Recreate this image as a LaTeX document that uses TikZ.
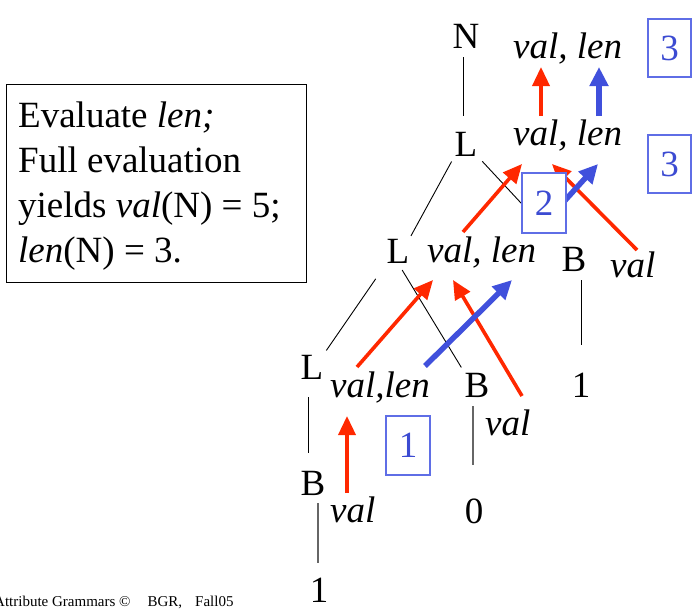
\documentclass[tikz,border=0pt]{standalone}
\usepackage{fontspec}
\setmainfont{Liberation Serif}
\usetikzlibrary{arrows.meta}
\definecolor{ared}{RGB}{255,40,0}
\definecolor{ablue}{RGB}{64,80,220}
\definecolor{bxblue}{RGB}{95,110,230}
\definecolor{dgblue}{RGB}{60,75,210}
\tikzset{
  lab/.style={inner sep=0pt, anchor=base, font=\fontsize{37}{40}\selectfont},
  att/.style={inner sep=0pt, anchor=base west, font=\fontsize{37}{40}\selectfont\itshape},
  infoline/.style={inner sep=0pt, anchor=base west, font=\fontsize{37}{40}\selectfont},
  edge/.style={draw=black, line width=0.9pt},
  gedge/.style={draw=black!60, line width=1.1pt},
  redarr/.style={draw=ared, line width=3.6pt, -{Triangle[length=19pt,width=17pt]}},
  bluearr/.style={draw=ablue, line width=5.5pt, -{Triangle[length=19pt,width=18pt]}},
  numbox/.style={draw=bxblue, line width=1.1pt, fill=white, minimum width=43pt, minimum height=58pt, inner sep=0pt, text=dgblue, font=\fontsize{37}{40}\selectfont}
}
\begin{document}
\begin{tikzpicture}[x=1pt,y=-1pt]
\useasboundingbox (0,0) rectangle (694,613);

% info box
\node[draw, line width=1pt, minimum width=300pt, minimum height=198pt, anchor=north west, inner sep=0pt] (info) at (6,84) {};
\node[infoline] (i1) at (18,127) {Evaluate \textit{len;}};
\node[infoline] (i2) at (18,172) {Full evaluation};
\node[infoline] (i3) at (18,217) {yields \textit{val}(N) = 5;};
\node[infoline] (i4) at (18,262) {\textit{len}(N) = 3.};

% footer
\node[inner sep=0pt, anchor=base west, font=\fontsize{15}{17}\selectfont] (foot) at (-6,606) {Attribute Grammars \textcopyright\hspace{17pt}BGR,\hspace{13pt}Fall05};

% tree symbols
\node[lab] (N) at (466,48) {N};
\node[lab] (L1) at (466,156) {L};
\node[lab] (L2) at (398,263) {L};
\node[lab] (L3) at (312,379) {L};
\node[lab] (B2) at (574,271) {B};
\node[lab] (B3) at (477,397) {B};
\node[lab] (B4) at (313,495) {B};
\node[lab] (oneR) at (581,397) {1};
\node[lab] (zero) at (474,523) {0};
\node[lab] (oneB) at (319,602) {1};

% attributes
\node[att] (aN) at (513,58) {val, len};
\node[att] (aL1) at (513,145) {val, len};
\node[att] (aL2) at (427,262) {val, len};
\node[att] (aL3) at (330,397) {val,len};
\node[att] (aB2) at (610,277) {val};
\node[att] (aB3) at (485,435) {val};
\node[att] (aB4) at (330,522) {val};

% tree edges
\draw[edge, shorten <=9pt, shorten >=16pt] ([xshift=-3pt]N.south) -- ([xshift=-3pt]L1.north);
\draw[edge, shorten <=6pt, shorten >=3pt] (L1.south west) -- (L2.north east);
\draw[edge, shorten <=7pt, shorten >=18pt] (L1.south east) -- (B2.north west);
\draw[edge, shorten <=19pt, shorten >=5pt] (L2.south west) -- (L3.north east);
\draw[edge, shorten <=8pt, shorten >=6pt] (L2.south) -- (B3.north west);
\draw[edge, shorten <=18pt, shorten >=18pt] ([xshift=-4pt]L3.south) -- ([xshift=-5pt]B4.north);
\draw[edge, shorten <=9pt, shorten >=27pt] (oneR.north |- B2.south) -- (oneR.north);
\draw[gedge, shorten <=9pt, shorten >=33pt] ([xshift=-1pt]zero.north |- B3.south) -- ([xshift=-1pt]zero.north);
\draw[gedge, shorten <=8pt, shorten >=14pt] ([xshift=-1pt]oneB.north |- B4.south) -- ([xshift=-1pt]oneB.north);

% dependency arrow end points
\coordinate (p1s) at (541,116); \coordinate (p1e) at (541,67);
\coordinate (p2s) at (599,116); \coordinate (p2e) at (599,67);
\coordinate (p3s) at (463,232); \coordinate (p3e) at (522,164);
\coordinate (p4s) at (637,250); \coordinate (p4e) at (552,164);
\coordinate (p5s) at (550,217); \coordinate (p5e) at (598,164);
\coordinate (p6s) at (357,367); \coordinate (p6e) at (433,280);
\coordinate (p7s) at (522,396); \coordinate (p7e) at (453,280);
\coordinate (p8s) at (425,366); \coordinate (p8e) at (512,280);
\coordinate (p9s) at (347,493); \coordinate (p9e) at (347,416);

\draw[redarr] (p1s) -- (p1e);
\draw[bluearr] (p2s) -- (p2e);
\draw[redarr] (p3s) -- (p3e);
\draw[redarr] (p4s) -- (p4e);
\draw[bluearr] (p5s) -- (p5e);
\draw[redarr] (p6s) -- (p6e);
\draw[redarr] (p7s) -- (p7e);
\draw[bluearr] (p8s) -- (p8e);
\draw[redarr] (p9s) -- (p9e);

% step boxes
\node[numbox] (b3a) at (669.5,48) {3};
\node[numbox] (b3b) at (669.5,164) {3};
\node[numbox, minimum width=44pt, minimum height=60pt] (b2) at (544,203) {2};
\node[numbox, minimum width=44pt, minimum height=59pt] (b1) at (408,445.5) {1};
\end{tikzpicture}
\end{document}
